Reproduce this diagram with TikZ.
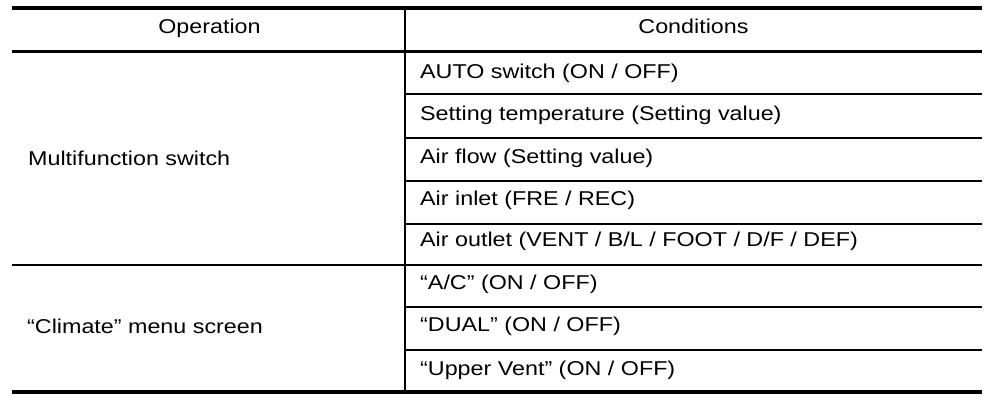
\documentclass[tikz,border=0pt]{standalone}
\usepackage{fontspec}
\setmainfont[FakeStretch=1.165]{Liberation Sans}
\begin{document}
\begin{tikzpicture}[x=1pt,y=-1pt,
  txt/.style={inner sep=0pt,anchor=base west,font=\fontsize{20}{24}\selectfont},
  hdr/.style={inner sep=0pt,anchor=base,font=\fontsize{20}{24}\selectfont},
  thickrule/.style={line width=4.2pt},
  midrule/.style={line width=3.5pt},
  rowrule/.style={line width=1.8pt},
  colrule/.style={line width=2pt}]
\useasboundingbox[fill=white] (0,0) rectangle (1008,402);
% rules
\draw[thickrule] (12,8) -- (982,8);
\draw[midrule] (12,51.3) -- (982,51.3);
\draw[thickrule] (12,392) -- (982,392);
\draw[rowrule] (12,265) -- (982,265);
\foreach \y in {94.3,137.7,181,224,307,350}{
  \draw[rowrule] (405,\y) -- (982,\y);
}
\draw[colrule] (405,8) -- (405,392);
% header
\node[hdr] (hop) at (209.5,33.3) {Operation};
\node[hdr] (hco) at (693.5,33.3) {Conditions};
% left column
\node[txt] (op1) at (28,165) {Multifunction switch};
\node[txt] (op2) at (27,333) {“Climate” menu screen};
% right column
\node[txt] (c1) at (420,78.3) {AUTO switch (ON / OFF)};
\node[txt] (c2) at (420,120.5) {Setting temperature (Setting value)};
\node[txt] (c3) at (420,163) {Air flow (Setting value)};
\node[txt] (c4) at (420,205) {Air inlet (FRE / REC)};
\node[txt] (c5) at (420,246) {Air outlet (VENT / B/L / FOOT / D/F / DEF)};
\node[txt] (c6) at (420,289) {“A/C” (ON / OFF)};
\node[txt] (c7) at (420,331) {“DUAL” (ON / OFF)};
\node[txt] (c8) at (420,375) {“Upper Vent” (ON / OFF)};
\end{tikzpicture}
\end{document}
